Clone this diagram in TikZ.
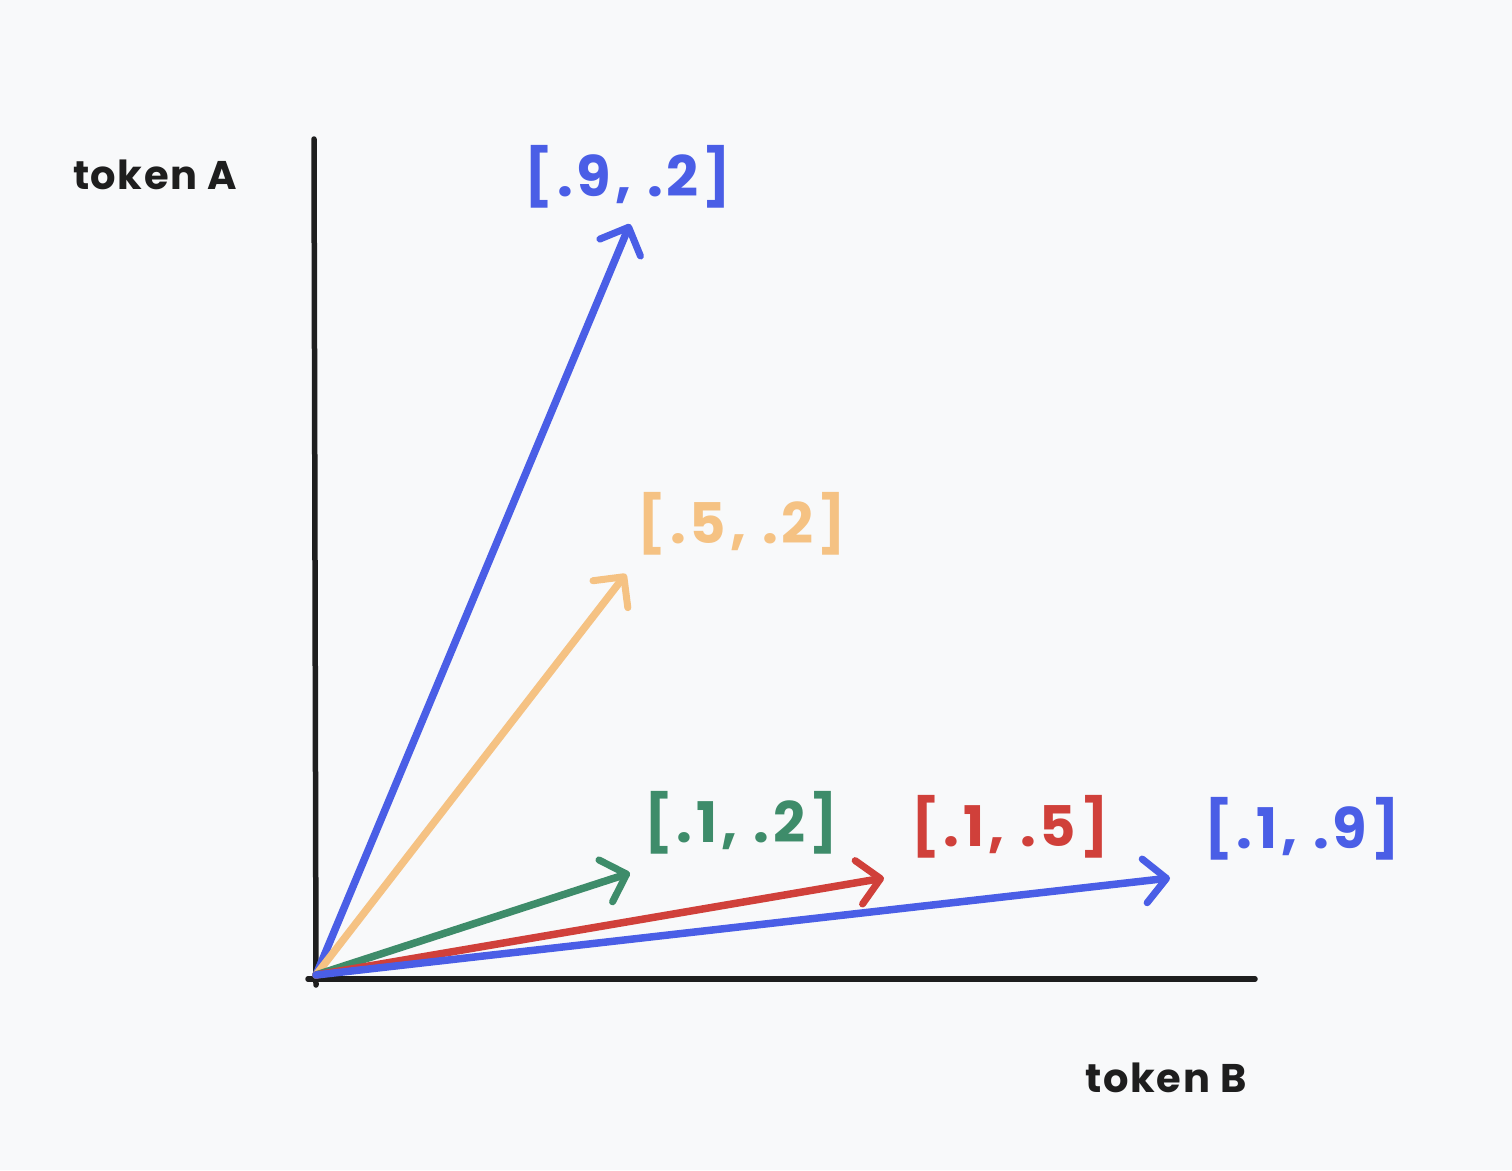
\documentclass[tikz,border=0pt]{standalone}
\usepackage{fontspec}
\setmainfont{Poppins}
\usetikzlibrary{arrows.meta}
\definecolor{bg}{HTML}{F8F9FA}
\definecolor{ink}{HTML}{1E1E1E}
\definecolor{vblue}{HTML}{4A5EE6}
\definecolor{vorange}{HTML}{F5C283}
\definecolor{vgreen}{HTML}{3E8C6A}
\definecolor{vred}{HTML}{D0403A}
\tikzset{
  axisline/.style={ink, line width=5.5pt, line cap=round},
  vec/.style={line width=7.5pt, line cap=round, -{Straight Barb[length=22pt,width=44pt,line width=7pt,round]}},
  veclabel/.style={font=\bfseries\addfontfeature{LetterSpace=7}\fontsize{56}{60}\selectfont, inner sep=0pt, anchor=center},
  axislabel/.style={ink, font=\bfseries\addfontfeature{LetterSpace=4}\fontsize{40}{44}\selectfont, inner sep=0pt, anchor=center}
}
\begin{document}
\begin{tikzpicture}[x=1pt,y=-1pt]
\fill[bg] (0,0) rectangle (1512,1170);
\useasboundingbox (0,0) rectangle (1512,1170);
\coordinate (O) at (316,975);
\coordinate (ytop) at (314,139);
\coordinate (ybot) at (316,985);
\coordinate (xl) at (308,979);
\coordinate (xr) at (1255,979);
\draw[axisline] (ybot) -- (ytop);
\draw[axisline] (xl) -- (xr);
\coordinate (e1) at (630,224);
\coordinate (e2) at (626,574);
\coordinate (e3) at (630,873);
\coordinate (e4) at (884,878);
\coordinate (e5) at (1170,878);
\draw[vec, vblue] (O) -- (e1);
\draw[vec, vorange] (O) -- (e2);
\draw[vec, vgreen] (O) -- (e3);
\draw[vec, vred] (O) -- (e4);
\draw[vec, vblue] (O) -- (e5);
\node[veclabel, vblue] (l1) at (628,177) {[.9, .2]};
\node[veclabel, vorange] (l2) at (742,524) {[.5, .2]};
\node[veclabel, vgreen] (l3) at (741,823) {[.1, .2]};
\node[veclabel, vred] (l4) at (1010,827) {[.1, .5]};
\node[veclabel, vblue] (l5) at (1302,829) {[.1, .9]};
\node[axislabel] (ta) at (155,175) {token A};
\node[axislabel] (tb) at (1166,1078) {token B};
\end{tikzpicture}
\end{document}
